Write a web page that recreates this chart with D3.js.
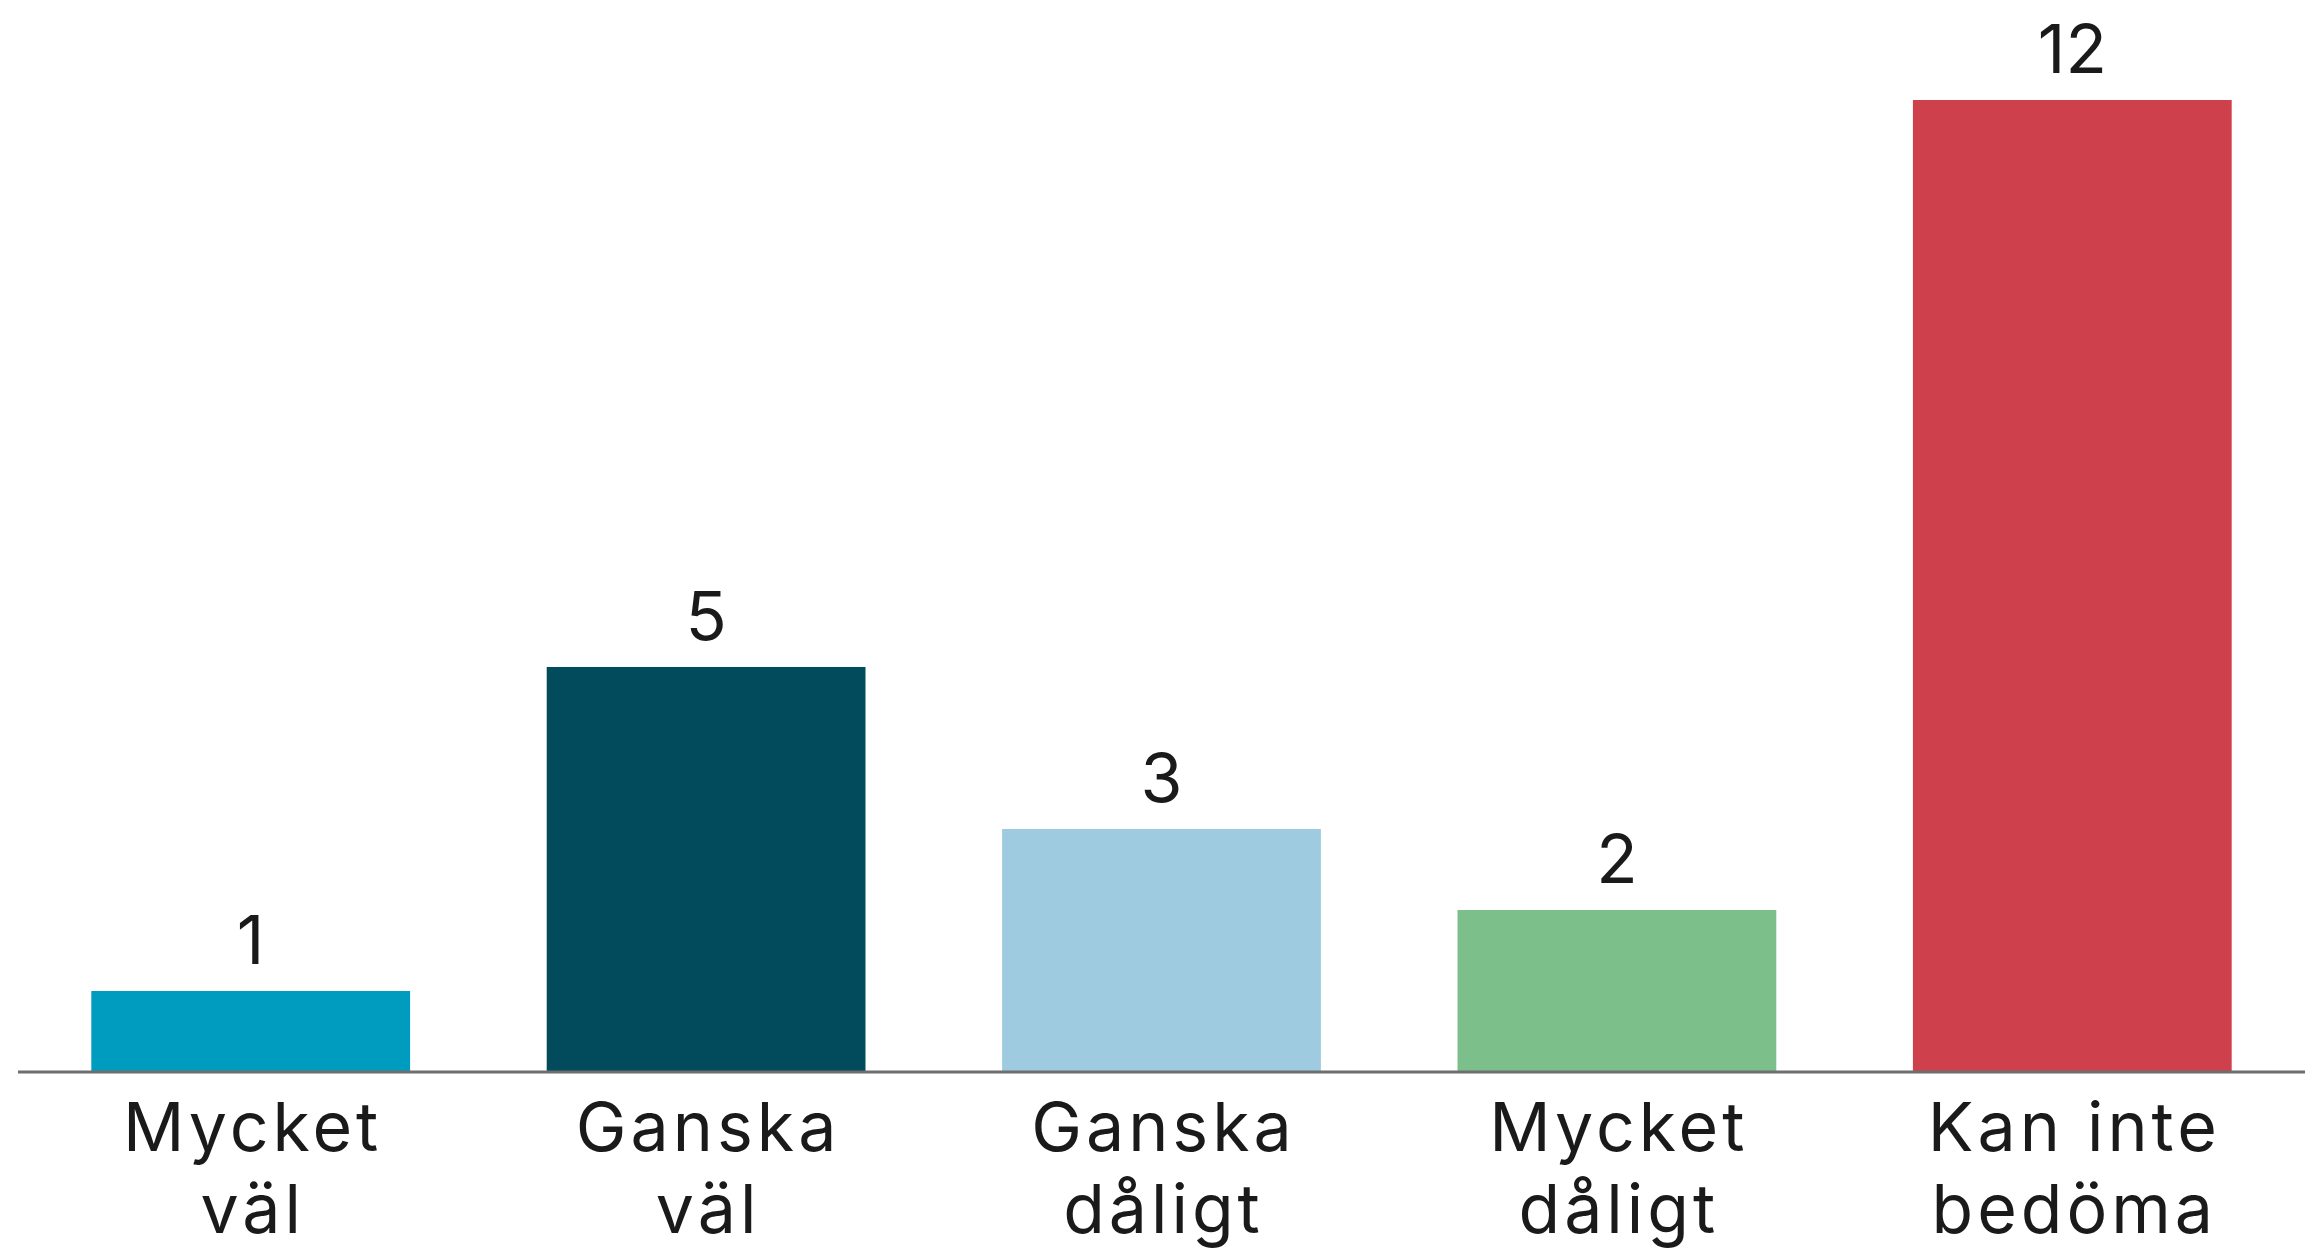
<!DOCTYPE html>
<html>
<head>
<meta charset="utf-8">
<script src="https://cdn.jsdelivr.net/npm/d3@7"></script>
<style>
  html, body { margin: 0; padding: 0; background: #fff; }
  svg { display: block; }
</style>
</head>
<body>
<div class="chart"></div>
<script>
const width = 2305;
const height = 1259;

const categories = [["Mycket", "väl"], ["Ganska", "väl"], ["Ganska", "dåligt"], ["Mycket", "dåligt"], ["Kan inte", "bedöma"]];
const values = [1, 5, 3, 2, 12];
const colors = ["#009cc0", "#024b5c", "#9ecbe0", "#7cbf8b", "#cf404d"];

const baseline = 1072;

const svg = d3
   .select(".chart")
   .append("svg")
   .attr("width", width)
   .attr("height", height)
   .style("font-family", "Inter, 'Noto Sans', sans-serif");

const x = d3.scaleBand()
   .domain(d3.range(values.length))
   .range([23, 2300])
   .paddingInner(0.3)
   .paddingOuter(0.15);

const y = d3.scaleLinear().domain([0, 12]).range([baseline, 100]);

svg.selectAll("rect")
   .data(values)
   .enter()
   .append("rect")
   .attr("x", (d, i) => x(i))
   .attr("y", (d) => y(d))
   .attr("width", x.bandwidth())
   .attr("height", (d) => y(0) - y(d))
   .attr("fill", (d, i) => colors[i]);

// baseline axis line
svg.append("line")
   .attr("x1", 18)
   .attr("x2", width)
   .attr("y1", y(0))
   .attr("y2", y(0))
   .attr("stroke", "#6e6e6e")
   .attr("stroke-width", 3);

// value labels
svg.selectAll(".val")
   .data(values)
   .enter()
   .append("text")
   .attr("class", "val")
   .attr("x", (d, i) => x(i) + x.bandwidth() / 2)
   .attr("y", (d) => y(d) - 27)
   .attr("text-anchor", "middle")
   .attr("font-size", 68)
   .attr("fill", "#1a1a1a")
   .text((d) => d);

// category labels, two lines each
const cat = svg.selectAll(".cat")
   .data(categories)
   .enter()
   .append("text")
   .attr("class", "cat")
   .attr("text-anchor", "middle")
   .attr("font-size", 68)
   .attr("letter-spacing", 4)
   .attr("fill", "#1a1a1a");

cat.selectAll("tspan")
   .data((d, i) => d.map((line) => ({ line, i })))
   .enter()
   .append("tspan")
   .attr("x", (d) => x(d.i) + x.bandwidth() / 2 + 2)
   .attr("y", (d, j) => 1151 + j * 82)
   .text((d) => d.line);
</script>
</body>
</html>
